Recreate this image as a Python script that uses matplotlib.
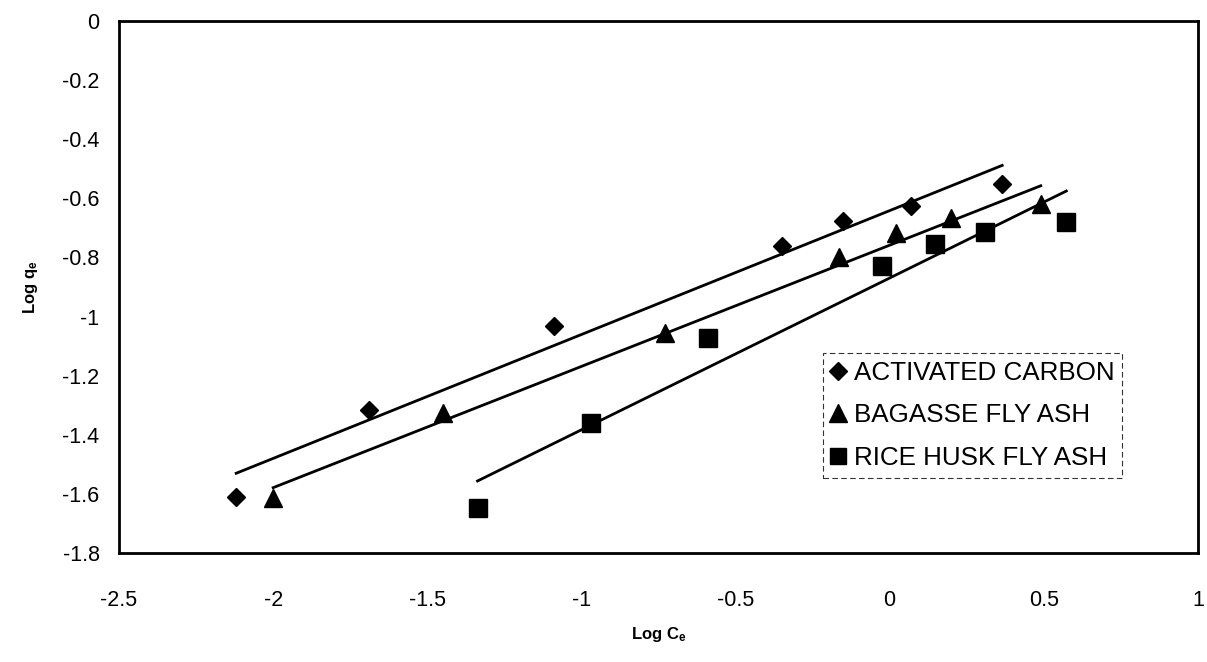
import numpy as np
import matplotlib
matplotlib.use("Agg")
import matplotlib.pyplot as plt

plt.rcParams['font.family'] = ['Liberation Sans', 'DejaVu Sans']
plt.rcParams['mathtext.fontset'] = 'custom'
plt.rcParams['mathtext.rm'] = 'Liberation Sans'
plt.rcParams['mathtext.bf'] = 'Liberation Sans:bold'
plt.rcParams['mathtext.it'] = 'Liberation Sans:italic'

# Data (log Ce, log qe)
ac_x = [-2.12, -1.69, -1.09, -0.35, -0.15, 0.07, 0.365]
ac_y = [-1.61, -1.316, -1.032, -0.76, -0.677, -0.625, -0.553]

bfa_x = [-2.0, -1.45, -0.73, -0.164, 0.022, 0.20, 0.49]
bfa_y = [-1.615, -1.327, -1.057, -0.797, -0.716, -0.668, -0.62]

rhfa_x = [-1.337, -0.97, -0.589, -0.024, 0.146, 0.308, 0.573]
rhfa_y = [-1.649, -1.359, -1.073, -0.829, -0.756, -0.713, -0.681]

labels = ["ACTIVATED CARBON", "BAGASSE FLY ASH", "RICE HUSK FLY ASH"]
markers = ["D", "^", "s"]
msizes = [9.5, 13, 12.5]

x_ticks = [-2.5, -2, -1.5, -1, -0.5, 0, 0.5, 1]
x_ticklabels = ["-2.5", "-2", "-1.5", "-1", "-0.5", "0", "0.5", "1"]
y_ticks = [0, -0.2, -0.4, -0.6, -0.8, -1, -1.2, -1.4, -1.6, -1.8]
y_ticklabels = ["0", "-0.2", "-0.4", "-0.6", "-0.8", "-1", "-1.2", "-1.4", "-1.6", "-1.8"]

fig = plt.figure(figsize=(12.07, 6.62), dpi=100)
ax = fig.add_axes([0.0986, 0.1647, 0.8939, 0.8036])

series = [(ac_x, ac_y), (bfa_x, bfa_y), (rhfa_x, rhfa_y)]
for (xs, ys), lab, mk, ms in zip(series, labels, markers, msizes):
    xs = np.array(xs); ys = np.array(ys)
    ax.plot(xs, ys, linestyle='none', marker=mk, markersize=ms, color='black', label=lab)
    slope, icpt = np.polyfit(xs, ys, 1)
    xl = np.array([xs.min(), xs.max()])
    ax.plot(xl, slope * xl + icpt, color='black', linewidth=2.0)

ax.set_xlim(-2.5, 1)
ax.set_ylim(-1.8, 0)
ax.set_xticks(x_ticks)
ax.set_xticklabels(x_ticklabels)
ax.set_yticks(y_ticks)
ax.set_yticklabels(y_ticklabels)
ax.tick_params(axis='both', length=0, labelsize=15.5)
ax.tick_params(axis='x', pad=27)
ax.tick_params(axis='y', pad=14)
for sp in ax.spines.values():
    sp.set_linewidth(2.0)

ax.set_xlabel(r"$\mathbf{Log\ C_e}$", fontsize=12, labelpad=10)
ax.set_ylabel(r"$\mathbf{Log\ q_e}$", fontsize=12, labelpad=16)

leg = ax.legend(loc='lower right', bbox_to_anchor=(0.930, 0.141), borderaxespad=0,
                fontsize=18.7, handlelength=0.6, handletextpad=0.3, labelspacing=0.72,
                frameon=True, fancybox=False, borderpad=0.3)
fr = leg.get_frame()
fr.set_edgecolor('black')
fr.set_linewidth(0.8)
fr.set_linestyle((0, (5, 3)))
for h in leg.legend_handles:
    h.set_markersize(h.get_markersize() * 0.95)

fig.savefig("out.png", dpi=100)
